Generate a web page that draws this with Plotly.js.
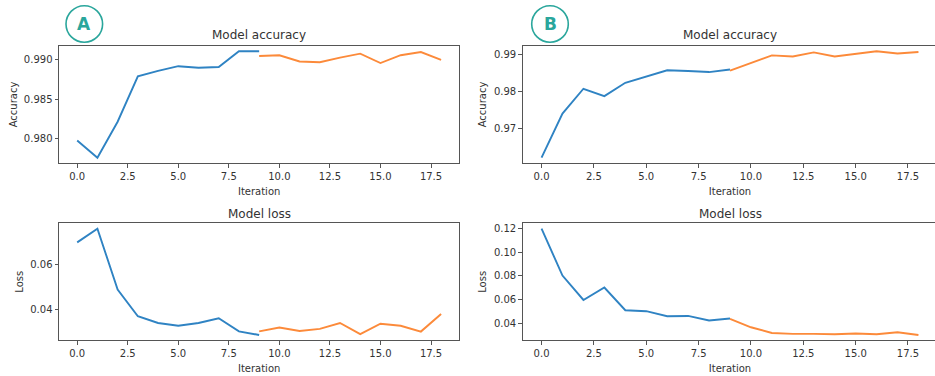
<!DOCTYPE html>
<html>
<head>
<meta charset="utf-8">
<script src="https://cdn.plot.ly/plotly-3.0.1.min.js"></script>
<style>
  html, body { margin: 0; padding: 0; overflow: hidden; background: #fff; }
  #chart { width: 938px; height: 376px; }
</style>
</head>
<body>
<div id="chart"></div>
<script>
// Training history of two runs (A and B): first phase and continued phase
const iterFirst = [0, 1, 2, 3, 4, 5, 6, 7, 8, 9];
const iterSecond = [9, 10, 11, 12, 13, 14, 15, 16, 17, 18];

const accA1 = [0.9797, 0.9775, 0.9821, 0.9879, 0.9886, 0.9892, 0.9890, 0.9891, 0.9911, 0.9911];
const accA2 = [0.9905, 0.9906, 0.9898, 0.9897, 0.9903, 0.9908, 0.9896, 0.9906, 0.9910, 0.9900];
const lossA1 = [0.0699, 0.0760, 0.0490, 0.0372, 0.0342, 0.0330, 0.0342, 0.0363, 0.0305, 0.0289];
const lossA2 = [0.0305, 0.0322, 0.0307, 0.0316, 0.0342, 0.0293, 0.0339, 0.0330, 0.0304, 0.0382];

const accB1 = [0.9621, 0.9740, 0.9807, 0.9787, 0.9823, 0.9841, 0.9857, 0.9855, 0.9852, 0.9859];
const accB2 = [0.9856, 0.9877, 0.9897, 0.9894, 0.9905, 0.9894, 0.9901, 0.9908, 0.9902, 0.9906];
const lossB1 = [0.1200, 0.0803, 0.0597, 0.0702, 0.0510, 0.0502, 0.0459, 0.0462, 0.0423, 0.0440];
const lossB2 = [0.0437, 0.0366, 0.0318, 0.0310, 0.0310, 0.0307, 0.0313, 0.0307, 0.0324, 0.0301];

const panelLetters = ['A', 'B'];
const xTickVals = [0, 2.5, 5, 7.5, 10, 12.5, 15, 17.5];

const W = 938, H = 376;
const BLUE = '#2f83c3', ORANGE = '#fc8a3a', TEAL = '#2aa69c';
const INK = '#333333', FRAME = '#555555';
const FONT = 'DejaVu Sans, sans-serif';

const px = x => x / W;
const py = y => 1 - y / H;

function line(x, y, color, xa, ya) {
  return { x: x, y: y, type: 'scatter', mode: 'lines', xaxis: xa, yaxis: ya,
           line: { color: color, width: 1.9 }, hoverinfo: 'skip', showlegend: false };
}

const data = [
  line(iterFirst, accA1, BLUE, 'x', 'y'),
  line(iterSecond, accA2, ORANGE, 'x', 'y'),
  line(iterFirst, accB1, BLUE, 'x2', 'y2'),
  line(iterSecond, accB2, ORANGE, 'x2', 'y2'),
  line(iterFirst, lossA1, BLUE, 'x3', 'y3'),
  line(iterSecond, lossA2, ORANGE, 'x3', 'y3'),
  line(iterFirst, lossB1, BLUE, 'x4', 'y4'),
  line(iterSecond, lossB2, ORANGE, 'x4', 'y4')
];

// padded range like matplotlib's 5% auto margins
function padRange(arrs) {
  const all = [].concat(...arrs);
  const lo = Math.min(...all), hi = Math.max(...all);
  const m = (hi - lo) * 0.05;
  return [lo - m, hi + m];
}

const colsX = [[59, 459.3], [522.7, 937.3]];
const rowsY = [[46, 163], [223.3, 340.3]];

function xAxis(col, row) {
  return {
    domain: [px(colsX[col][0]), px(colsX[col][1])],
    anchor: ['y', 'y2', 'y3', 'y4'][row * 2 + col],
    range: padRange([iterFirst, iterSecond]),
    tickmode: 'array', tickvals: xTickVals, tickformat: '.1f',
    ticks: 'outside', ticklen: 3.5, tickwidth: 1, tickcolor: FRAME,
    showline: true, linecolor: FRAME, linewidth: 1, mirror: true,
    showgrid: false, zeroline: false,
    tickfont: { family: FONT, size: 10, color: INK },
    title: { text: 'Iteration', font: { family: FONT, size: 10, color: INK }, standoff: 7 }
  };
}

function yAxis(col, row, series, ticks, fmt, label, standoff) {
  return {
    domain: [py(rowsY[row][1]), py(rowsY[row][0])],
    anchor: ['x', 'x2', 'x3', 'x4'][row * 2 + col],
    range: padRange(series),
    tickmode: 'array', tickvals: ticks, tickformat: fmt,
    ticks: 'outside', ticklen: 3.5, tickwidth: 1, tickcolor: FRAME,
    showline: true, linecolor: FRAME, linewidth: 1, mirror: true,
    showgrid: false, zeroline: false,
    tickfont: { family: FONT, size: 10, color: INK },
    title: { text: label, font: { family: FONT, size: 10, color: INK }, standoff: standoff }
  };
}

const layout = {
  width: W, height: H,
  margin: { l: 0, r: 0, t: 0, b: 0 },
  paper_bgcolor: '#ffffff', plot_bgcolor: '#ffffff',
  font: { family: FONT, color: INK },
  xaxis: xAxis(0, 0),
  xaxis2: xAxis(1, 0),
  xaxis3: xAxis(0, 1),
  xaxis4: xAxis(1, 1),
  yaxis: yAxis(0, 0, [accA1, accA2], [0.980, 0.985, 0.990], '.3f', 'Accuracy', 4),
  yaxis2: yAxis(1, 0, [accB1, accB2], [0.97, 0.98, 0.99], '.2f', 'Accuracy', 5),
  yaxis3: yAxis(0, 1, [lossA1, lossA2], [0.04, 0.06], '.2f', 'Loss', 4),
  yaxis4: yAxis(1, 1, [lossB1, lossB2], [0.04, 0.06, 0.08, 0.10, 0.12], '.2f', 'Loss', 5),
  shapes: [],
  annotations: []
};

// panel titles
const titleRows = [['Model accuracy', 35], ['Model loss', 213.5]];
titleRows.forEach(([txt, y]) => {
  colsX.forEach(([a, b]) => {
    layout.annotations.push({
      xref: 'paper', yref: 'paper', x: px((a + b) / 2), y: py(y),
      xanchor: 'center', yanchor: 'middle', showarrow: false,
      text: txt, font: { family: FONT, size: 12, color: INK }
    });
  });
});

// circled panel letters
const letterCenters = [[84.3, 24], [550, 24]];
panelLetters.forEach((letter, i) => {
  const [cx, cy] = letterCenters[i];
  const r = 18.3;
  layout.shapes.push({
    type: 'circle', xref: 'paper', yref: 'paper',
    x0: px(cx - r), x1: px(cx + r), y0: py(cy + r), y1: py(cy - r),
    line: { color: TEAL, width: 1.6 }, fillcolor: 'rgba(0,0,0,0)'
  });
  layout.annotations.push({
    xref: 'paper', yref: 'paper', x: px(cx), y: py(cy + 0.5),
    xanchor: 'center', yanchor: 'middle', showarrow: false,
    text: '<b>' + letter + '</b>', font: { family: FONT, size: 17, color: TEAL }
  });
});

Plotly.newPlot('chart', data, layout, { staticPlot: true, displayModeBar: false });
</script>
</body>
</html>
